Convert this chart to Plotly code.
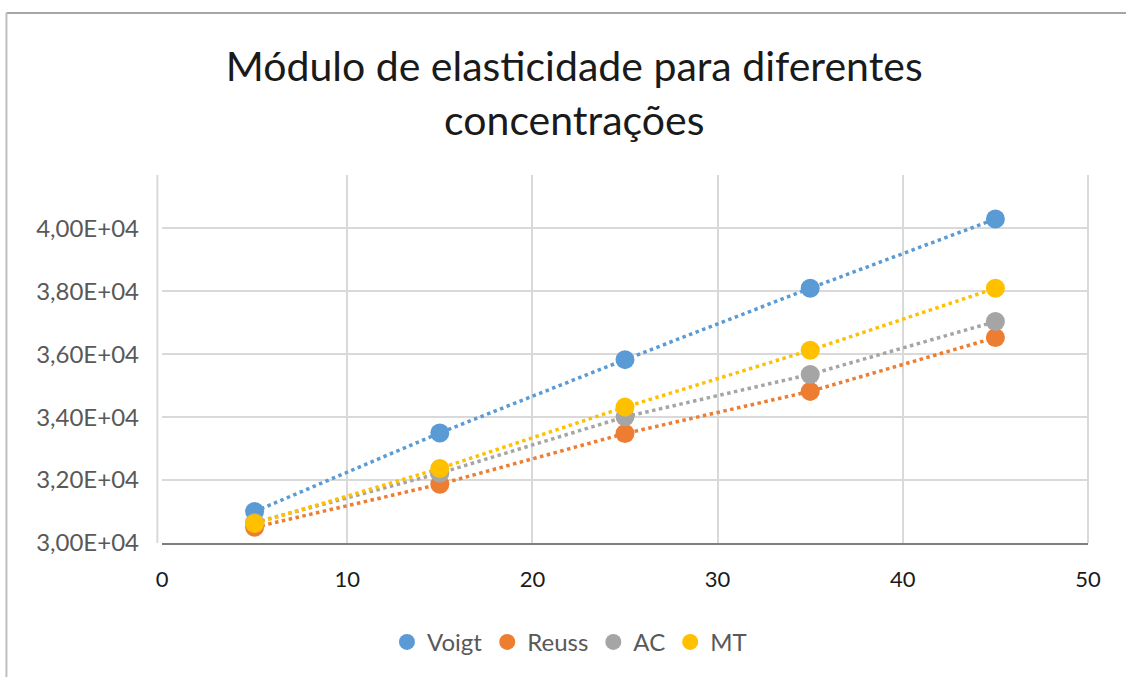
import plotly.graph_objects as go

concentracao = [5, 15, 25, 35, 45]
voigt = [31000, 33500, 35830, 38100, 40300]
reuss = [30500, 31870, 33480, 34820, 36530]
ac = [30650, 32220, 34010, 35360, 37040]
mt = [30620, 32370, 34320, 36130, 38100]

series_names = ["Voigt", "Reuss", "AC", "MT"]
series_colors = ["#5B9BD5", "#ED7D31", "#A5A5A5", "#FFC000"]
series_values = [voigt, reuss, ac, mt]

y_tick_vals = [30000, 32000, 34000, 36000, 38000, 40000]
y_tick_text = ["3,00E+04", "3,20E+04", "3,40E+04", "3,60E+04", "3,80E+04", "4,00E+04"]
x_tick_vals = [0, 10, 20, 30, 40, 50]

font_family = "Lato, 'Open Sans', sans-serif"

fig = go.Figure()
# dotted connecting lines (not in legend)
for name, color, vals in zip(series_names, series_colors, series_values):
    fig.add_trace(go.Scatter(
        x=concentracao, y=vals, name=name, mode="lines", showlegend=False,
        line=dict(color=color, width=3.5, dash="dot"), hoverinfo="skip",
    ))
# markers (legend entries)
for name, color, vals in zip(series_names, series_colors, series_values):
    fig.add_trace(go.Scatter(
        x=concentracao, y=vals, name=name, mode="markers",
        marker=dict(color=color, size=19),
    ))

fig.update_layout(
    width=1126, height=677,
    paper_bgcolor="white", plot_bgcolor="white",
    margin=dict(l=162, r=38, t=175, b=132),
    font=dict(family=font_family, color="#595959"),
    title=dict(
        text="Módulo de elasticidade para diferentes<br>concentrações",
        x=0.51, xanchor="center", xref="container",
        y=0.88, yanchor="top",
        font=dict(size=41, color="#1a1a1a", family=font_family),
    ),
    showlegend=True,
    legend=dict(
        orientation="h", x=0.44, xanchor="center", y=-0.27, yanchor="middle",
        font=dict(size=24, color="#595959"), itemsizing="trace",
        traceorder="normal", itemwidth=30,
    ),
    xaxis=dict(
        range=[0, 50], tickvals=x_tick_vals, showgrid=True, gridcolor="#D9D9D9",
        gridwidth=2, zeroline=False, showline=True, linecolor="#7F7F7F", linewidth=2,
        tickfont=dict(size=22, color="#1a1a1a"), ticks="", ticklabelstandoff=16,
    ),
    yaxis=dict(
        range=[30000, 41700], tickvals=y_tick_vals, ticktext=y_tick_text,
        showgrid=True, gridcolor="#D9D9D9", gridwidth=2, zeroline=False,
        showline=False, tickfont=dict(size=24, color="#595959"), ticks="",
        ticklabelstandoff=22,
    ),
    shapes=[
        dict(type="line", xref="paper", yref="paper", x0=-0.005, x1=-0.005, y0=0, y1=1,
             line=dict(color="#D9D9D9", width=2)),
        dict(type="line", xref="paper", yref="paper", x0=1.0, x1=1.0, y0=0, y1=1,
             line=dict(color="#D9D9D9", width=2)),
    ],
)

# outer chart border (top and left)
fig.add_shape(type="line", xref="paper", yref="paper", x0=-0.168, x1=1.05, y0=1.44, y1=1.44,
              line=dict(color="#A6A6A6", width=2))
fig.add_shape(type="line", xref="paper", yref="paper", x0=-0.168, x1=-0.168, y0=1.44, y1=-0.4,
              line=dict(color="#BFBFBF", width=2))

fig.write_html("out.html")
